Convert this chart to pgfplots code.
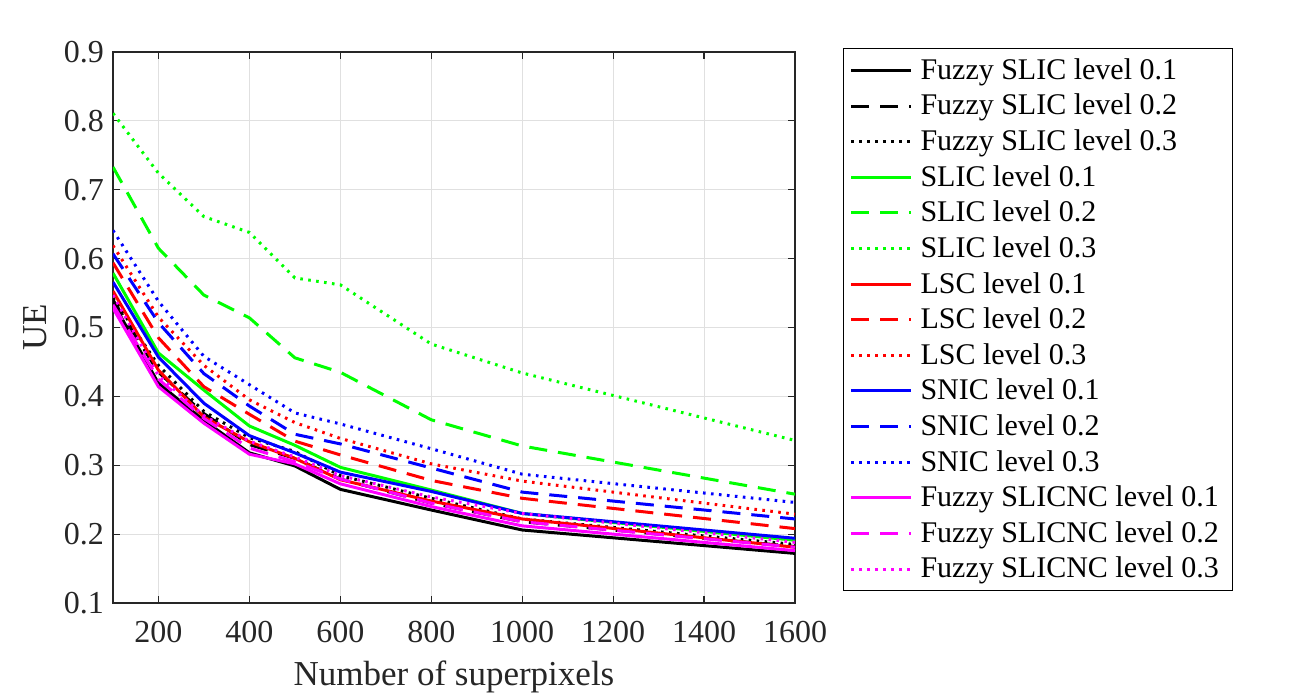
\documentclass[border=0pt]{standalone}
\usepackage{fontspec}
\setmainfont{Liberation Serif}
\usepackage{pgfplots}
\pgfplotsset{compat=1.18}
\usepackage{pgfplotstable}

% x  = number of superpixels, columns = UE per method and level
\pgfplotstableread{
x     fs1   fs2   fs3   sl1   sl2   sl3   ls1   ls2   ls3   sn1   sn2   sn3   fn1   fn2   fn3
100   0.536 0.540 0.543 0.579 0.733 0.811 0.553 0.594 0.619 0.566 0.607 0.641 0.528 0.533 0.547
200   0.419 0.435 0.445 0.463 0.615 0.724 0.438 0.485 0.515 0.457 0.507 0.538 0.414 0.425 0.430
300   0.365 0.375 0.378 0.409 0.547 0.661 0.370 0.414 0.445 0.390 0.433 0.458 0.361 0.368 0.372
400   0.318 0.330 0.340 0.357 0.514 0.638 0.334 0.374 0.395 0.343 0.386 0.417 0.316 0.325 0.335
500   0.299 0.310 0.320 0.329 0.456 0.572 0.310 0.335 0.362 0.318 0.345 0.376 0.302 0.305 0.312
600   0.265 0.280 0.285 0.297 0.435 0.562 0.279 0.315 0.339 0.290 0.331 0.360 0.273 0.280 0.285
800   0.235 0.245 0.252 0.264 0.366 0.476 0.248 0.278 0.302 0.262 0.296 0.324 0.240 0.245 0.254
1000  0.206 0.218 0.222 0.230 0.328 0.434 0.222 0.252 0.277 0.230 0.261 0.287 0.212 0.218 0.230
1600  0.172 0.182 0.185 0.191 0.258 0.336 0.181 0.208 0.229 0.194 0.222 0.246 0.176 0.181 0.188
}\uedata

\definecolor{mgreen}{rgb}{0,1,0}
\definecolor{mmagenta}{rgb}{1,0,1}
\definecolor{mframe}{rgb}{0.15,0.15,0.15}
\definecolor{mgrid}{rgb}{0.88,0.88,0.88}

\tikzset{
  sol/.style={line width=1.5pt, solid},
  dsh/.style={line width=1.5pt, dash pattern=on 9pt off 5.5pt},
  dtt/.style={line width=1.5pt, dash pattern=on 1.3pt off 2.7pt},
}

\begin{document}
\begin{tikzpicture}
\path[use as bounding box] (-56.5pt,-46.5pt) rectangle (600pt,301.5pt);
\begin{axis}[
  at={(0pt,0pt)}, anchor=south west,
  scale only axis,
  width=341pt, height=275.5pt,
  xmin=100, xmax=1600, ymin=0.1, ymax=0.9,
  xtick={200,400,...,1600},
  ytick={0.1,0.2,...,0.9},
  yticklabel style={xshift=-1pt, /pgf/number format/.cd, fixed, fixed zerofill, precision=1},
  xticklabel style={yshift=-5.5pt, /pgf/number format/1000 sep={}},
  /pgf/number format/assume math mode=true,
  tick label style={font=\fontsize{16}{19}\selectfont, text=black!85},
  label style={font=\fontsize{17.5}{21}\selectfont, text=black!85},
  xlabel={Number of superpixels},
  ylabel={UE},
  xlabel style={yshift=-2pt},
  ylabel style={yshift=1.5pt},
  grid=major,
  major grid style={mgrid, line width=0.5pt},
  axis line style={mframe, line width=0.6pt},
  tick style={mframe, line width=0.6pt},
  tick align=inside,
  major tick length=3.5pt,
  legend cell align=left,
  legend style={
    at={(1.0704,1.0073)}, anchor=north west,
    font=\fontsize{15}{17.8}\selectfont,
    draw=black, line width=0.5pt,
    inner xsep=3pt, inner ysep=3pt,
    row sep=1.9pt,
    nodes={inner xsep=4pt},
  },
  legend image code/.code={\draw[#1] (0pt,0pt) -- (30pt,0pt);},
]
\addplot[black, sol] table[x=x, y=fs1] {\uedata};
\addlegendentry{Fuzzy SLIC level 0.1}
\addplot[black, dsh] table[x=x, y=fs2] {\uedata};
\addlegendentry{Fuzzy SLIC level 0.2}
\addplot[black, dtt] table[x=x, y=fs3] {\uedata};
\addlegendentry{Fuzzy SLIC level 0.3}
\addplot[mgreen, sol] table[x=x, y=sl1] {\uedata};
\addlegendentry{SLIC level 0.1}
\addplot[mgreen, dsh] table[x=x, y=sl2] {\uedata};
\addlegendentry{SLIC level 0.2}
\addplot[mgreen, dtt] table[x=x, y=sl3] {\uedata};
\addlegendentry{SLIC level 0.3}
\addplot[red, sol] table[x=x, y=ls1] {\uedata};
\addlegendentry{LSC level 0.1}
\addplot[red, dsh] table[x=x, y=ls2] {\uedata};
\addlegendentry{LSC level 0.2}
\addplot[red, dtt] table[x=x, y=ls3] {\uedata};
\addlegendentry{LSC level 0.3}
\addplot[blue, sol] table[x=x, y=sn1] {\uedata};
\addlegendentry{SNIC level 0.1}
\addplot[blue, dsh] table[x=x, y=sn2] {\uedata};
\addlegendentry{SNIC level 0.2}
\addplot[blue, dtt] table[x=x, y=sn3] {\uedata};
\addlegendentry{SNIC level 0.3}
\addplot[mmagenta, sol] table[x=x, y=fn1] {\uedata};
\addlegendentry{Fuzzy SLICNC level 0.1}
\addplot[mmagenta, dsh] table[x=x, y=fn2] {\uedata};
\addlegendentry{Fuzzy SLICNC level 0.2}
\addplot[mmagenta, dtt] table[x=x, y=fn3] {\uedata};
\addlegendentry{Fuzzy SLICNC level 0.3}
\end{axis}
\end{tikzpicture}
\end{document}
